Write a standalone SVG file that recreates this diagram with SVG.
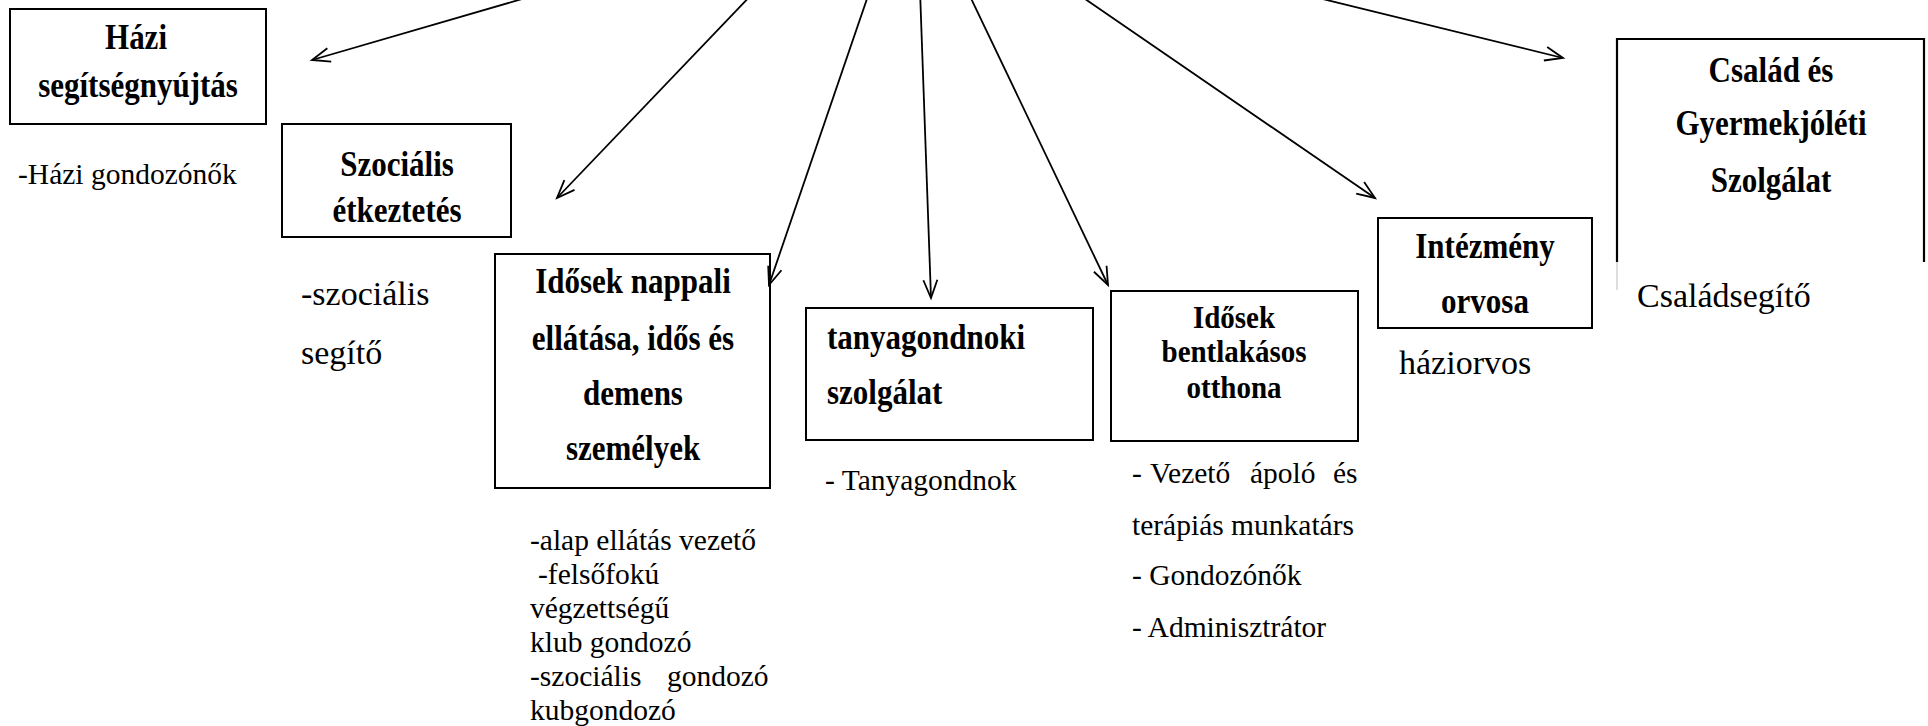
<svg xmlns="http://www.w3.org/2000/svg" width="1928" height="726" viewBox="0 0 1928 726">
<style>
.box{fill:none;stroke:#000;stroke-width:2}
.h{font-family:"Liberation Serif","Times New Roman",serif;font-weight:bold;font-size:31px;fill:#000;text-anchor:middle}
.hl{font-family:"Liberation Serif","Times New Roman",serif;font-weight:bold;font-size:31px;fill:#000}
.t{font-family:"Liberation Serif","Times New Roman",serif;font-size:29.5px;fill:#000}
.tb{font-family:"Liberation Serif","Times New Roman",serif;font-size:34px;fill:#000}
.con{stroke:#000;stroke-width:1.8;fill:none;marker-end:url(#arr)}
</style>
<defs>
<marker id="arr" markerUnits="userSpaceOnUse" markerWidth="26" markerHeight="22" viewBox="-22 -11 26 22" refX="0" refY="0" orient="auto">
<path d="M-18,-7 L0,0 L-18,7" fill="none" stroke="#000" stroke-width="1.8"/>
</marker>
</defs>
<rect width="1928" height="726" fill="#fff"/>

<g id="connectors">
<line class="con" x1="553" y1="-10" x2="312" y2="60"/>
<line class="con" x1="756" y1="-10" x2="557" y2="198"/>
<line class="con" x1="870" y1="-10" x2="769" y2="285"/>
<line class="con" x1="920" y1="-10" x2="931" y2="298"/>
<line class="con" x1="967" y1="-10" x2="1108" y2="285"/>
<line class="con" x1="1072" y1="-10" x2="1375" y2="198"/>
<line class="con" x1="1286" y1="-10" x2="1563" y2="58"/>
</g>

<g id="hazi">
<rect class="box" x="10" y="9" width="256" height="115"/>
<text class="h" transform="translate(136,49) scale(1,1.16)">Házi</text>
<text class="h" transform="translate(138,97) scale(1,1.16)">segítségnyújtás</text>
<text class="t" x="18" y="184">-Házi gondozónők</text>
</g>

<g id="szocialis">
<rect class="box" x="282" y="124" width="229" height="113"/>
<text class="h" transform="translate(397,176) scale(1,1.16)">Szociális</text>
<text class="h" transform="translate(397,222) scale(1,1.16)">étkeztetés</text>
<text class="tb" x="301" y="305">-szociális</text>
<text class="tb" x="301" y="364">segítő</text>
</g>

<g id="nappali">
<rect class="box" x="495" y="254" width="275" height="234"/>
<text class="h" transform="translate(633,293) scale(1,1.16)">Idősek nappali</text>
<text class="h" transform="translate(633,350) scale(1,1.16)">ellátása, idős és</text>
<text class="h" transform="translate(633,405) scale(1,1.16)">demens</text>
<text class="h" transform="translate(633,460) scale(1,1.16)">személyek</text>
<text class="t" x="530" y="550">-alap ellátás vezető</text>
<text class="t" x="538" y="584">-felsőfokú</text>
<text class="t" x="530" y="618">végzettségű</text>
<text class="t" x="530" y="652">klub gondozó</text>
<text class="t" y="686"><tspan x="530">-szociális</tspan><tspan x="667">gondozó</tspan></text>
<text class="t" x="530" y="720">kubgondozó</text>
</g>

<g id="tanya">
<rect class="box" x="806" y="308" width="287" height="132"/>
<text class="hl" transform="translate(827,349) scale(1,1.16)">tanyagondnoki</text>
<text class="hl" transform="translate(827,404) scale(1,1.16)">szolgálat</text>
<text class="t" x="825" y="490">- Tanyagondnok</text>
</g>

<g id="bentlakasos">
<rect class="box" x="1111" y="291" width="247" height="150"/>
<text class="h" style="font-size:29px" transform="translate(1234,328) scale(1,1.08)">Idősek</text>
<text class="h" style="font-size:29px" transform="translate(1234,362) scale(1,1.08)">bentlakásos</text>
<text class="h" style="font-size:29px" transform="translate(1234,398) scale(1,1.08)">otthona</text>
<text class="t" y="483"><tspan x="1132">-</tspan><tspan x="1150">Vezető</tspan><tspan x="1250">ápoló</tspan><tspan x="1333">és</tspan></text>
<text class="t" x="1132" y="535">terápiás munkatárs</text>
<text class="t" x="1132" y="585">- Gondozónők</text>
<text class="t" x="1132" y="637">- Adminisztrátor</text>
</g>

<g id="intezmeny">
<rect class="box" x="1378" y="218" width="214" height="110"/>
<text class="h" transform="translate(1485,258) scale(1,1.16)">Intézmény</text>
<text class="h" transform="translate(1485,313) scale(1,1.16)">orvosa</text>
<text class="tb" x="1399" y="374">háziorvos</text>
</g>

<g id="csalad">
<path d="M1617,262 L1617,39 L1924,39 L1924,262" fill="none" stroke="#000" stroke-width="2.2"/>
<line x1="1617" y1="262" x2="1617" y2="290" stroke="#bbb" stroke-width="1"/>
<text class="h" transform="translate(1771,82) scale(1,1.16)">Család és</text>
<text class="h" transform="translate(1771,135) scale(1,1.16)">Gyermekjóléti</text>
<text class="h" transform="translate(1771,192) scale(1,1.16)">Szolgálat</text>
<text class="tb" x="1637" y="307">Családsegítő</text>
</g>
</svg>
